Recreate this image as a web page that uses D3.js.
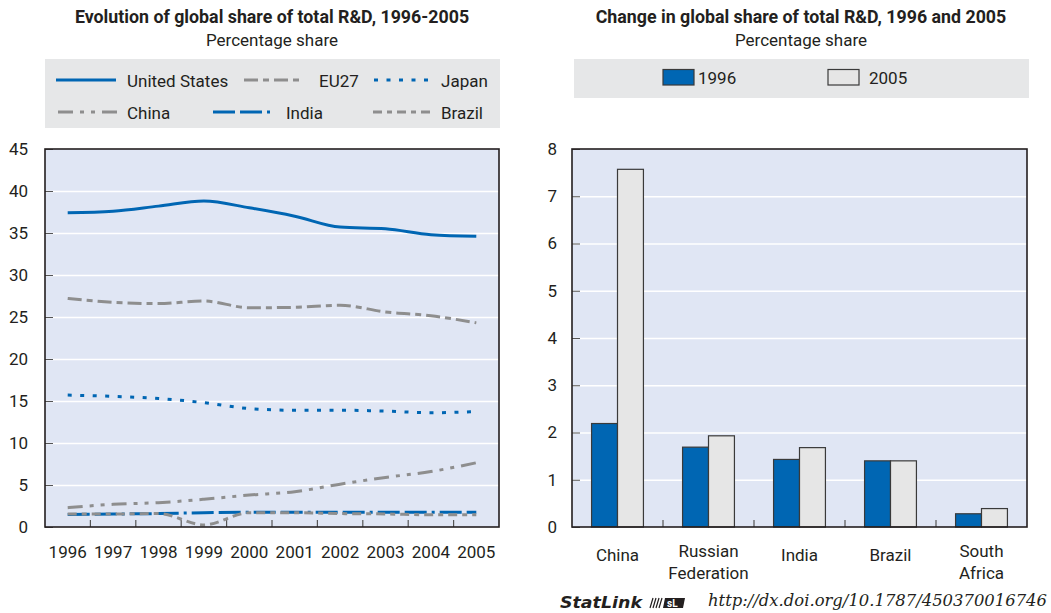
<!DOCTYPE html>
<html>
<head>
<meta charset="utf-8">
<script src="https://cdn.jsdelivr.net/npm/d3@7"></script>
<style>
  body { margin: 0; background: #fff; }
</style>
</head>
<body>
<div id="chart-container"></div>
<script>
// values
const years = ['1996', '1997', '1998', '1999', '2000', '2001', '2002', '2003', '2004', '2005'];
const unitedStates = [37.4, 37.6, 38.2, 38.8, 38.0, 37.0, 35.7, 35.5, 34.8, 34.6];
const eu27 = [27.2, 26.75, 26.6, 26.9, 26.1, 26.15, 26.4, 25.6, 25.15, 24.3];
const japan = [15.7, 15.55, 15.3, 14.8, 14.1, 13.9, 13.9, 13.8, 13.6, 13.75];
const china = [2.3, 2.7, 2.9, 3.3, 3.8, 4.2, 5.1, 5.9, 6.6, 7.65];
const india = [1.5, 1.55, 1.6, 1.7, 1.75, 1.75, 1.75, 1.75, 1.75, 1.75];
const brazil = [1.55, 1.55, 1.6, 0.25, 1.7, 1.7, 1.6, 1.55, 1.45, 1.45];
const leftTicks = [0, 5, 10, 15, 20, 25, 30, 35, 40, 45];

const countries = ['China', 'Russian Federation', 'India', 'Brazil', 'South Africa'];
const countryLabels = [['China'], ['Russian', 'Federation'], ['India'], ['Brazil'], ['South', 'Africa']];
const barYears = ['1996', '2005'];
const share1996 = [2.19, 1.69, 1.43, 1.40, 0.28];
const share2005 = [7.57, 1.93, 1.68, 1.40, 0.39];
const rightTicks = [0, 1, 2, 3, 4, 5, 6, 7, 8];

const FONT = 'Roboto, \'DejaVu Sans Condensed\', sans-serif';
const BLUE = '#0066b3';
const GREY = '#8e8e8e';
const PLOT_BG = '#e0e6f4';
const LEGEND_BG = '#e6e7e8';
const INK = '#231f20';
const FS = '17px';
const TITLE_FS = '17.8px';

const series = [
  {name: 'United States', values: unitedStates, color: BLUE, dash: null},
  {name: 'EU27', values: eu27, color: GREY, dash: '14,5,6,5'},
  {name: 'Japan', values: japan, color: BLUE, dash: '4,8.5'},
  {name: 'China', values: china, color: GREY, dash: '15,7,4,7,4,7'},
  {name: 'India', values: india, color: BLUE, dash: '22,5,22,5,3,5'},
  {name: 'Brazil', values: brazil, color: GREY, dash: '9,5,5,5'},
];

const svg = d3.select('#chart-container')
    .append('svg')
    .attr('width', 1051)
    .attr('height', 613)
    .style('font-family', FONT)
    .style('fill', INK);

// ---------- left panel: lines ----------
const left = {x: 45, y: 149, w: 454, h: 378};

svg.append('text')
    .attr('x', 272).attr('y', 23)
    .attr('text-anchor', 'middle')
    .attr('font-size', TITLE_FS).attr('font-weight', 'bold')
    .text('Evolution of global share of total R&D, 1996-2005');
svg.append('text')
    .attr('x', 272).attr('y', 46)
    .attr('text-anchor', 'middle')
    .attr('font-size', FS)
    .text('Percentage share');

// legend
const legL = svg.append('g');
legL.append('rect')
    .attr('x', 45).attr('y', 59).attr('width', 455).attr('height', 69)
    .attr('fill', LEGEND_BG);
const legPos = [
  {x: 56, y: 80, tx: 127}, {x: 244, y: 80, tx: 319}, {x: 374, y: 80, tx: 441},
  {x: 58, y: 112, tx: 127}, {x: 213, y: 112, tx: 286}, {x: 373, y: 112, tx: 441},
];
series.forEach(function(s, i) {
  const p = legPos[i];
  legL.append('line')
      .attr('x1', p.x).attr('x2', p.x + 60)
      .attr('y1', p.y).attr('y2', p.y)
      .attr('stroke', s.color).attr('stroke-width', 3)
      .attr('stroke-dasharray', s.dash);
  legL.append('text')
      .attr('x', p.tx).attr('y', p.y + 6.5)
      .attr('font-size', FS)
      .text(s.name);
});

const gL = svg.append('g')
    .attr('transform', `translate(${left.x}, ${left.y})`);

const x = d3.scaleBand()
    .domain(years)
    .range([0, left.w]);

const y = d3.scaleLinear()
    .domain([0, 45])
    .range([left.h, 0]);

gL.append('rect')
    .attr('width', left.w).attr('height', left.h)
    .attr('fill', PLOT_BG);

// white grid
gL.append('g')
    .call(d3.axisLeft(y).tickValues(leftTicks.slice(1, -1)).tickSize(-left.w).tickFormat(''))
    .call((g) => g.select('.domain').remove())
    .selectAll('line')
    .attr('stroke', '#fff').attr('stroke-width', 1.5);

// y axis labels + inward ticks
gL.append('g')
    .call(d3.axisLeft(y).tickValues(leftTicks).tickSize(-8).tickPadding(17))
    .call((g) => g.select('.domain').remove())
    .call((g) => g.selectAll('line').attr('stroke', '#555'))
    .selectAll('text')
    .attr('font-size', FS).attr('font-family', FONT).attr('fill', INK);

// x axis labels
gL.append('g')
    .attr('transform', `translate(0, ${left.h})`)
    .call(d3.axisBottom(x).tickSize(0).tickPadding(18))
    .call((g) => g.select('.domain').remove())
    .selectAll('text')
    .attr('font-size', FS).attr('font-family', FONT).attr('fill', INK)
    .attr('dy', '0.75em');

// boundary ticks on x axis
gL.append('g')
    .selectAll('line')
    .data(years.slice(1))
    .enter()
    .append('line')
    .attr('x1', (d) => x(d)).attr('x2', (d) => x(d))
    .attr('y1', left.h).attr('y2', left.h - 7)
    .attr('stroke', '#555').attr('stroke-width', 1.2);

const line = d3.line()
    .x((d, i) => x(years[i]) + x.bandwidth() / 2)
    .y((d) => y(d))
    .curve(d3.curveMonotoneX);

gL.append('g')
    .selectAll('path')
    .data(series)
    .enter()
    .append('path')
    .attr('d', (d) => line(d.values))
    .attr('fill', 'none')
    .attr('stroke', (d) => d.color)
    .attr('stroke-width', 3)
    .attr('stroke-dasharray', (d) => d.dash);

gL.append('rect')
    .attr('width', left.w).attr('height', left.h)
    .attr('fill', 'none').attr('stroke', INK).attr('stroke-width', 1.6);

// ---------- right panel: bars ----------
const right = {x: 572, y: 149, w: 455, h: 378};

svg.append('text')
    .attr('x', 801).attr('y', 23)
    .attr('text-anchor', 'middle')
    .attr('font-size', TITLE_FS).attr('font-weight', 'bold')
    .text('Change in global share of total R&D, 1996 and 2005');
svg.append('text')
    .attr('x', 801).attr('y', 46)
    .attr('text-anchor', 'middle')
    .attr('font-size', FS)
    .text('Percentage share');

const barColor = d3.scaleOrdinal()
    .domain(barYears)
    .range([BLUE, '#e6e6e6']);

const legR = svg.append('g');
legR.append('rect')
    .attr('x', 574).attr('y', 59).attr('width', 455).attr('height', 39)
    .attr('fill', LEGEND_BG);
const legRPos = [{x: 663, tx: 698}, {x: 828, tx: 869}];
barYears.forEach(function(yr, i) {
  legR.append('rect')
      .attr('x', legRPos[i].x).attr('y', 69.5).attr('width', 31).attr('height', 15.5)
      .attr('fill', barColor(yr)).attr('stroke', '#3a3a3a').attr('stroke-width', 1.2);
  legR.append('text')
      .attr('x', legRPos[i].tx).attr('y', 84)
      .attr('font-size', FS)
      .text(yr);
});

const gR = svg.append('g')
    .attr('transform', `translate(${right.x}, ${right.y})`);

const x0 = d3.scaleBand()
    .domain(countries)
    .range([0, right.w])
    .paddingInner(0.43)
    .paddingOuter(0.215);

const x1 = d3.scaleBand()
    .domain(barYears)
    .range([0, x0.bandwidth()]);

const y2 = d3.scaleLinear()
    .domain([0, 8])
    .range([right.h, 0]);

gR.append('rect')
    .attr('width', right.w).attr('height', right.h)
    .attr('fill', PLOT_BG);

gR.append('g')
    .call(d3.axisLeft(y2).tickValues(rightTicks.slice(1, -1)).tickSize(-right.w).tickFormat(''))
    .call((g) => g.select('.domain').remove())
    .selectAll('line')
    .attr('stroke', '#fff').attr('stroke-width', 1.5);

gR.append('g')
    .call(d3.axisLeft(y2).tickValues(rightTicks).tickSize(-8).tickPadding(15))
    .call((g) => g.select('.domain').remove())
    .call((g) => g.selectAll('line').attr('stroke', '#555'))
    .selectAll('text')
    .attr('font-size', FS).attr('font-family', FONT).attr('fill', INK);

// group boundary ticks
const gap = (x0.step() - x0.bandwidth()) / 2;
gR.append('g')
    .selectAll('line')
    .data(countries.slice(1))
    .enter()
    .append('line')
    .attr('x1', (d) => x0(d) - gap).attr('x2', (d) => x0(d) - gap)
    .attr('y1', right.h).attr('y2', right.h - 7)
    .attr('stroke', '#555').attr('stroke-width', 1.2);

const barData = countries.map(function(c, i) {
  return {country: c, values: [
    {year: '1996', value: share1996[i]},
    {year: '2005', value: share2005[i]},
  ]};
});

gR.append('g')
    .selectAll('g')
    .data(barData)
    .enter()
    .append('g')
    .attr('transform', (d) => `translate(${x0(d.country)}, 0)`)
    .selectAll('rect')
    .data((d) => d.values)
    .enter()
    .append('rect')
    .attr('x', (d) => x1(d.year))
    .attr('y', (d) => y2(d.value))
    .attr('width', x1.bandwidth())
    .attr('height', (d) => right.h - y2(d.value))
    .attr('fill', (d) => barColor(d.year))
    .attr('stroke', '#3a3a3a')
    .attr('stroke-width', 1.2);

// category labels (one or two lines)
const lab = gR.append('g')
    .selectAll('text')
    .data(countries)
    .enter()
    .append('text')
    .attr('text-anchor', 'middle')
    .attr('font-size', FS)
    .attr('transform', (d) => `translate(${x0(d) + x0.bandwidth() / 2}, 0)`);
lab.each(function(d, i) {
  const rows = countryLabels[i];
  const t = d3.select(this);
  rows.forEach(function(r, j) {
    t.append('tspan')
        .attr('x', 0)
        .attr('y', rows.length === 1 ? right.h + 34 : right.h + 30 + j * 22)
        .text(r);
  });
});

gR.append('rect')
    .attr('width', right.w).attr('height', right.h)
    .attr('fill', 'none').attr('stroke', INK).attr('stroke-width', 1.6);

// ---------- StatLink footer ----------
svg.append('text')
    .attr('x', 560).attr('y', 608)
    .attr('font-family', '\'DejaVu Sans\', sans-serif')
    .attr('font-size', '15px').attr('font-style', 'italic').attr('font-weight', 'bold')
    .attr('textLength', 82).attr('lengthAdjust', 'spacingAndGlyphs')
    .text('StatLink');
const icon = svg.append('g').attr('transform', 'translate(650, 598)');
[0, 3, 6, 9].forEach(function(o) {
  icon.append('line')
      .attr('x1', o + 3).attr('y1', 0).attr('x2', o).attr('y2', 10)
      .attr('stroke', INK).attr('stroke-width', 1.2);
});
icon.append('path')
    .attr('d', 'M15,0 L35,0 L33,10 L13,10 Z')
    .attr('fill', INK);
icon.append('text')
    .attr('x', 17).attr('y', 9)
    .attr('font-size', '10px').attr('font-weight', 'bold').attr('fill', '#fff')
    .text('sL');
svg.append('text')
    .attr('x', 708).attr('y', 606)
    .attr('font-family', '\'DejaVu Serif\', serif')
    .attr('font-size', '16px').attr('font-style', 'italic')
    .attr('textLength', 339).attr('lengthAdjust', 'spacingAndGlyphs')
    .text('http://dx.doi.org/10.1787/450370016746');
</script>
</body>
</html>
